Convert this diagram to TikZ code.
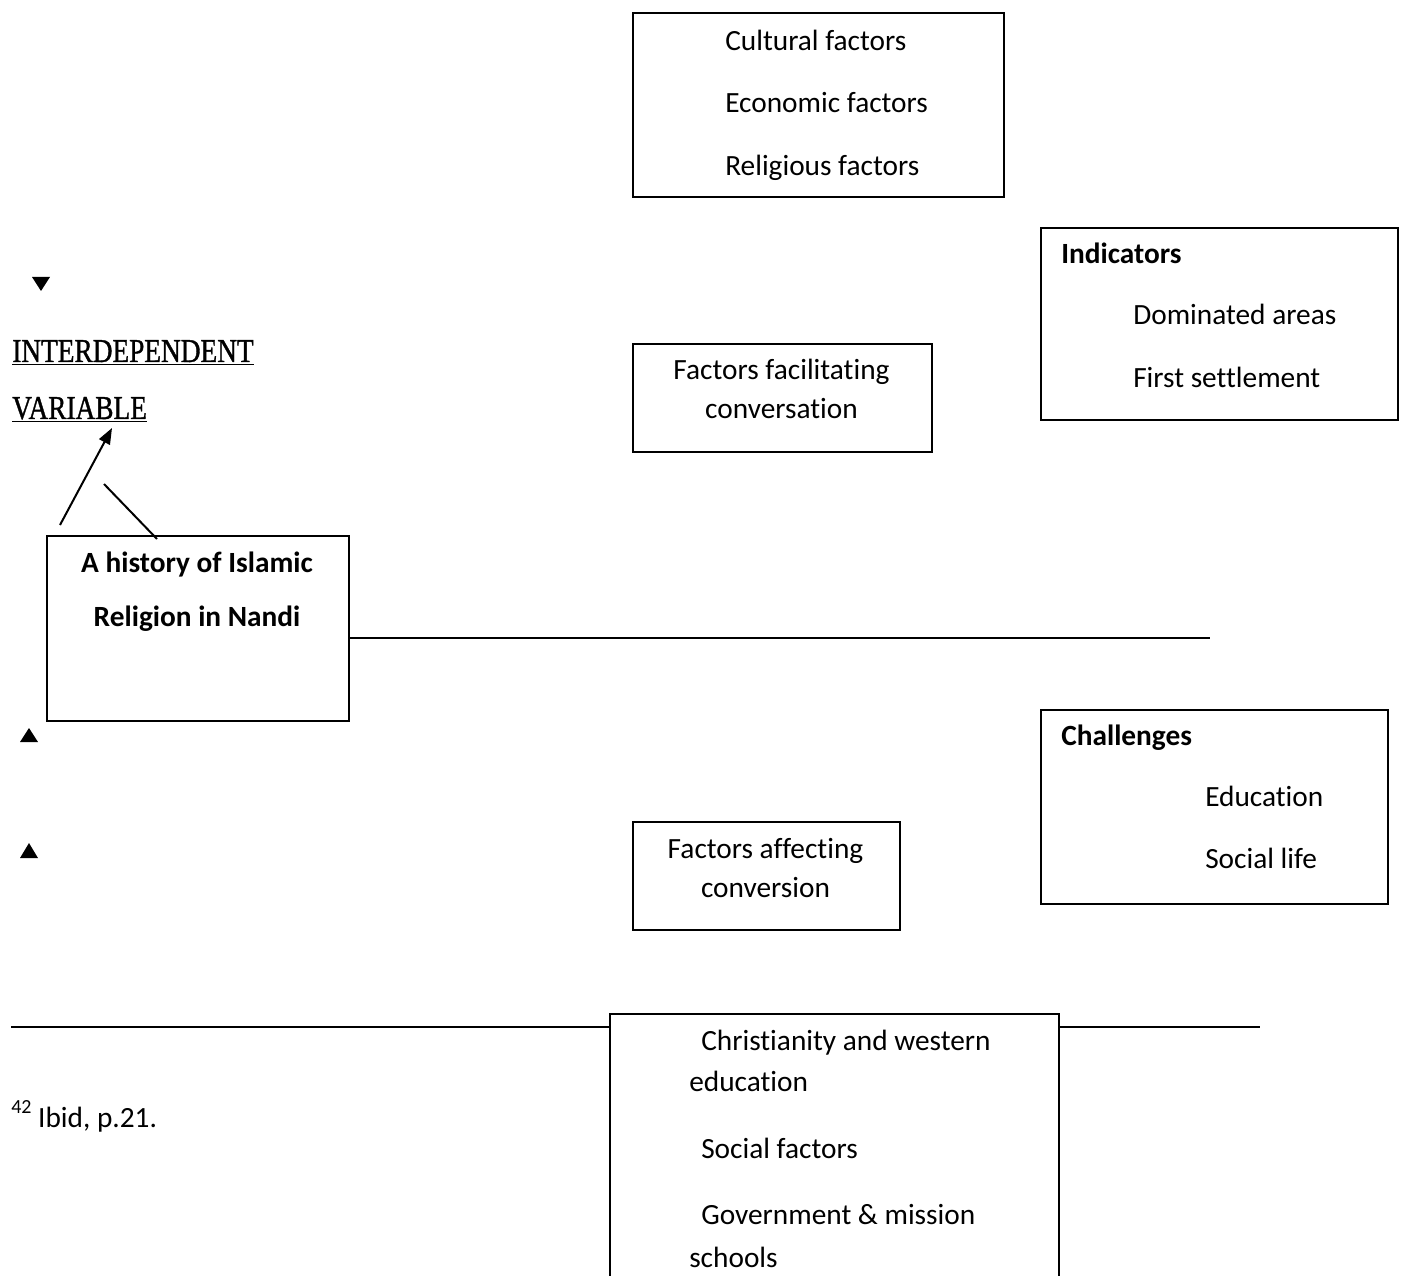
\documentclass[tikz,border=0pt]{standalone}
\usepackage{fontspec}
\setmainfont[Ligatures={NoCommon}]{Carlito}
\newfontfamily\headfont[FakeBold=1.2]{Liberation Serif}
\usetikzlibrary{arrows.meta}
\begin{document}
\begin{tikzpicture}[x=0.75pt,y=-0.75pt,
  box/.style={draw,line width=1.5pt,rectangle,inner sep=0,anchor=north west},
  txt/.style={inner sep=0,anchor=base west,font=\fontsize{22}{26}\selectfont},
  ctxt/.style={txt,anchor=base},
  btxt/.style={txt,font=\fontsize{22}{26}\selectfont\bfseries},
  cbtxt/.style={btxt,anchor=base},
  head/.style={inner sep=0,anchor=base west,font=\fontsize{25}{30}\headfont},
  tri/.style={fill=black},
  conn/.style={line width=1.5pt}]
\useasboundingbox (0,0) rectangle (1402,1276);
% boxes
\node[box,minimum width=278.25pt,minimum height=138pt] (top) at (632,12) {};
\node[box,minimum width=267.75pt,minimum height=144pt] (ind) at (1040,227) {};
\node[box,minimum width=224.25pt,minimum height=81pt] (fac) at (632,343) {};
\node[box,minimum width=226.5pt,minimum height=138.75pt] (hist) at (46,535) {};
\node[box,minimum width=260.25pt,minimum height=145.5pt] (chal) at (1040,709) {};
\node[box,minimum width=200.25pt,minimum height=81pt] (aff) at (632,821) {};
\node[box,minimum width=336.75pt,minimum height=215.25pt] (bot) at (609,1013) {};
% texts
\node[txt] (t1) at (725,51) {Cultural factors};
\node[txt] (t2) at (725,113) {Economic factors};
\node[txt] (t3) at (725,176) {Religious factors};
\node[btxt] (i0) at (1061,264) {Indicators};
\node[txt] (i1) at (1133,325) {Dominated areas};
\node[txt] (i2) at (1133,388) {First settlement};
\node[ctxt] (f1) at (781.5,380) {Factors facilitating};
\node[ctxt] (f2) at (781.5,419) {conversation};
\node[cbtxt] (h1) at (197,572) {A history of Islamic};
\node[cbtxt] (h2) at (197,626) {Religion in Nandi};
\node[btxt] (c0) at (1061,745) {Challenges};
\node[txt] (c1) at (1205,806) {Education};
\node[txt] (c2) at (1205,868) {Social life};
\node[ctxt] (a1) at (765.5,858) {Factors affecting};
\node[ctxt] (a2) at (765.5,897) {conversion};
\node[txt] (b1) at (701,1050) {Christianity and western};
\node[txt] (b2) at (689,1091) {education};
\node[txt] (b3) at (701,1158) {Social factors};
\node[txt] (b4) at (701,1224) {Government \& mission};
\node[txt] (b5) at (689,1267) {schools};
\node[txt] (fn) at (11,1127) {\raisebox{0.45em}{\fontsize{15}{17}\selectfont 42} Ibid, p.21.};
% heading
\node[head] (iv1) at (12,362) {\underline{\scalebox{0.82}[1]{INTERDEPENDENT}}};
\node[head] (iv2) at (12,419) {\underline{\scalebox{0.82}[1]{VARIABLE}}};
% triangles
\fill[tri] (32,277) -- (50,277) -- (41,291) -- cycle;
\fill[tri] (20,742) -- (38,742) -- (29,728) -- cycle;
\fill[tri] (20,858) -- (38,858) -- (29,843) -- cycle;
% connectors
\coordinate (ar0) at (60,525);
\coordinate (ar1) at (112,428);
\draw[conn,-{Triangle[length=12pt,width=9pt]}] (ar0) -- (ar1);
\coordinate (sl0) at (104,484);
\coordinate (sl1) at (157,539);
\draw[conn] (sl0) -- (sl1);
\coordinate (hl) at (1210,638);
\draw[conn] (hl -| hist.east) -- (hl);
\coordinate (bl0) at (11,1027);
\coordinate (bl1) at (1260,1027);
\draw[conn] (bl0) -- (bl0 -| bot.west);
\draw[conn] (bl1 -| bot.east) -- (bl1);
\end{tikzpicture}
\end{document}
